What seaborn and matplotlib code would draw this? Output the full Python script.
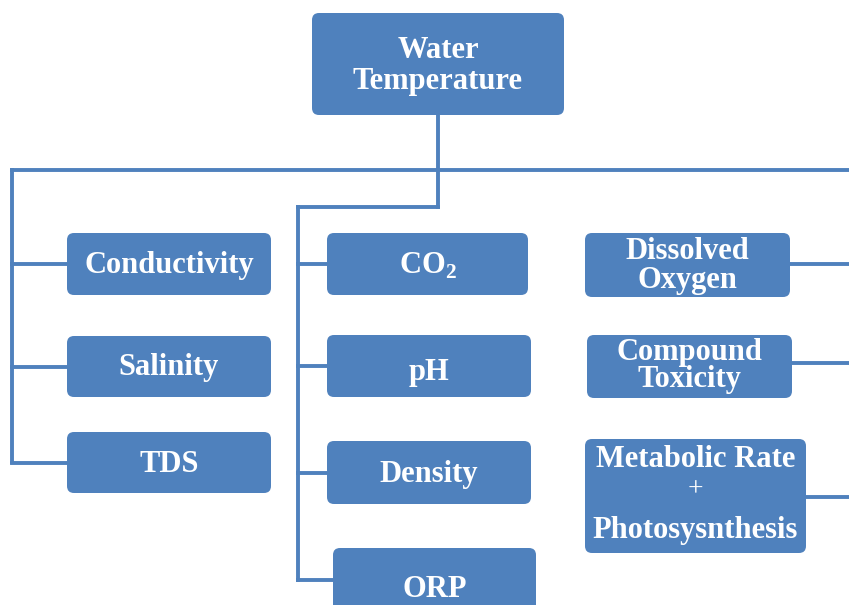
import matplotlib
matplotlib.use("Agg")
import matplotlib.pyplot as plt
import seaborn as sns
from matplotlib.patches import FancyBboxPatch

# ==========================================
# 1. Diagram content
# ==========================================
root_label = ["Water", "Temperature"]
left_labels = [["Conductivity"], ["Salinity"], ["TDS"]]
middle_labels = [[r"CO$_\mathbf{2}$"], ["pH"], ["Density"], ["ORP"]]
right_labels = [["Dissolved", "Oxygen"], ["Compound", "Toxicity"],
                ["Metabolic Rate", "+", "Photosysnthesis"]]

# ==========================================
# 2. Layout (pixels, y down): box rect + baseline offsets from box centre
# ==========================================
root_box = (312, 13, 252, 102)
root_offs = [-6, 25]
left_boxes = [(67, 233, 204, 62), (67, 336, 204, 61), (67, 432, 204, 61)]
left_offs = [[9], [9], [9.5]]
middle_boxes = [(327, 233, 201, 62), (327, 335, 204, 62), (327, 441, 204, 63), (333, 548, 203, 70)]
middle_offs = [[10], [14], [9.5], [14]]
right_boxes = [(585, 233, 205, 64), (587, 335, 205, 63), (585, 439, 221, 114)]
right_offs = [[-6, 23], [-6.5, 20.5], [-29, -6, 42]]

BLUE = "#4F81BD"
LINE_W = 2.8
FS = 22

sns.set_theme(style="white")
plt.rcParams["mathtext.fontset"] = "custom"
plt.rcParams["mathtext.bf"] = "Liberation Serif:bold"
plt.rcParams["mathtext.rm"] = "Liberation Serif:bold"

fig = plt.figure(figsize=(8.49, 6.05), dpi=100)
ax = fig.add_axes([0, 0, 1, 1])
ax.set_xlim(0, 849)
ax.set_ylim(605, 0)
ax.axis("off")


def line(xs, ys):
    ax.plot(xs, ys, color=BLUE, lw=LINE_W, solid_capstyle="projecting", zorder=1)


def box(rect, lines, offs):
    x, y, w, h = rect
    ax.add_patch(FancyBboxPatch((x, y), w, h, boxstyle="round,pad=0,rounding_size=7",
                                facecolor=BLUE, edgecolor="none", zorder=2))
    cx, cy = x + w / 2, y + h / 2
    for txt, off in zip(lines, offs):
        if txt == "+":
            # plus sign between the two lines, regular weight
            ax.text(cx, cy + off, txt, ha="center", va="center", color="white",
                    fontsize=20, family="Liberation Serif", zorder=3)
            continue
        ax.text(cx, cy + off, txt, ha="center", va="baseline", color="white",
                fontsize=FS, fontweight="bold", family="Liberation Serif", zorder=3)


# connectors
bus_y = 170
line([438, 438], [115, 207])
line([12, 849], [bus_y, bus_y])
line([12, 12], [bus_y, 462])
for (x, y, w, h) in left_boxes:
    line([12, x], [y + h / 2, y + h / 2])
line([298, 438], [207, 207])
line([298, 298], [207, 580])
for (x, y, w, h), cy in zip(middle_boxes, [264, 366, 473, 580]):
    line([298, x], [cy, cy])
for (x, y, w, h), cy in zip(right_boxes, [264, 363, 497]):
    line([x + w, 849], [cy, cy])

# boxes
box(root_box, root_label, root_offs)
for rect, lab, offs in zip(left_boxes, left_labels, left_offs):
    box(rect, lab, offs)
for rect, lab, offs in zip(middle_boxes, middle_labels, middle_offs):
    box(rect, lab, offs)
for rect, lab, offs in zip(right_boxes, right_labels, right_offs):
    box(rect, lab, offs)

fig.savefig("out.png", dpi=100)
